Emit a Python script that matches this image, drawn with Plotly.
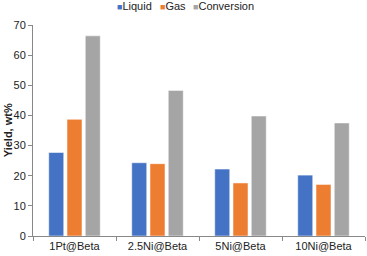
import plotly.graph_objects as go

categories = ["1Pt@Beta", "2.5Ni@Beta", "5Ni@Beta", "10Ni@Beta"]
liquid = [27.7, 24.3, 22.2, 20.2]
gas = [38.7, 24.0, 17.6, 17.1]
conversion = [66.4, 48.3, 39.8, 37.5]
y_ticks = [0, 10, 20, 30, 40, 50, 60, 70]
y_title = "Yield, wt%"

series = [("Liquid", liquid, "#4472C4"),
          ("Gas", gas, "#ED7D31"),
          ("Conversion", conversion, "#A5A5A5")]
legend_x = [0.248, 0.377, 0.476]

fig = go.Figure()
for name, vals, color in series:
    fig.add_trace(go.Bar(name=name, x=categories, y=vals, showlegend=False,
                         marker=dict(color=color, line=dict(color="rgba(255,255,255,0.5)", width=1))))

# compact legend drawn as text
for (name, _, color), lx in zip(series, legend_x):
    fig.add_annotation(text=f"<span style='color:{color};font-size:9px'>■</span>{name}",
                       xref="paper", yref="paper", x=lx, y=1.09,
                       xanchor="left", yanchor="middle", showarrow=False,
                       font=dict(size=11, color="#222"))

# y-axis title
fig.add_annotation(text=f"<b>{y_title}</b>", xref="paper", yref="paper",
                   x=-0.076, y=0.5, xanchor="center", yanchor="middle",
                   textangle=-90, showarrow=False, font=dict(size=11, color="#222"))

fig.update_layout(
    width=367, height=256,
    margin=dict(l=33, r=2, t=25, b=20, autoexpand=False),
    paper_bgcolor="white", plot_bgcolor="white",
    barmode="group", bargap=0.34, bargroupgap=0.18,
    font=dict(family="Liberation Sans, Arial, sans-serif", size=11, color="#222"),
    xaxis=dict(showline=True, linecolor="#888", linewidth=1, ticks="outside",
               tickson="boundaries", ticklen=4, tickcolor="#888", showgrid=False),
    yaxis=dict(range=[0, 70], tickvals=y_ticks, showline=True, linecolor="#888", linewidth=1,
               ticks="outside", ticklen=4, tickcolor="#888", showgrid=False, zeroline=False),
)

fig.write_html("out.html", config={"displayModeBar": False},
               post_script="document.body.style.margin='0';")
